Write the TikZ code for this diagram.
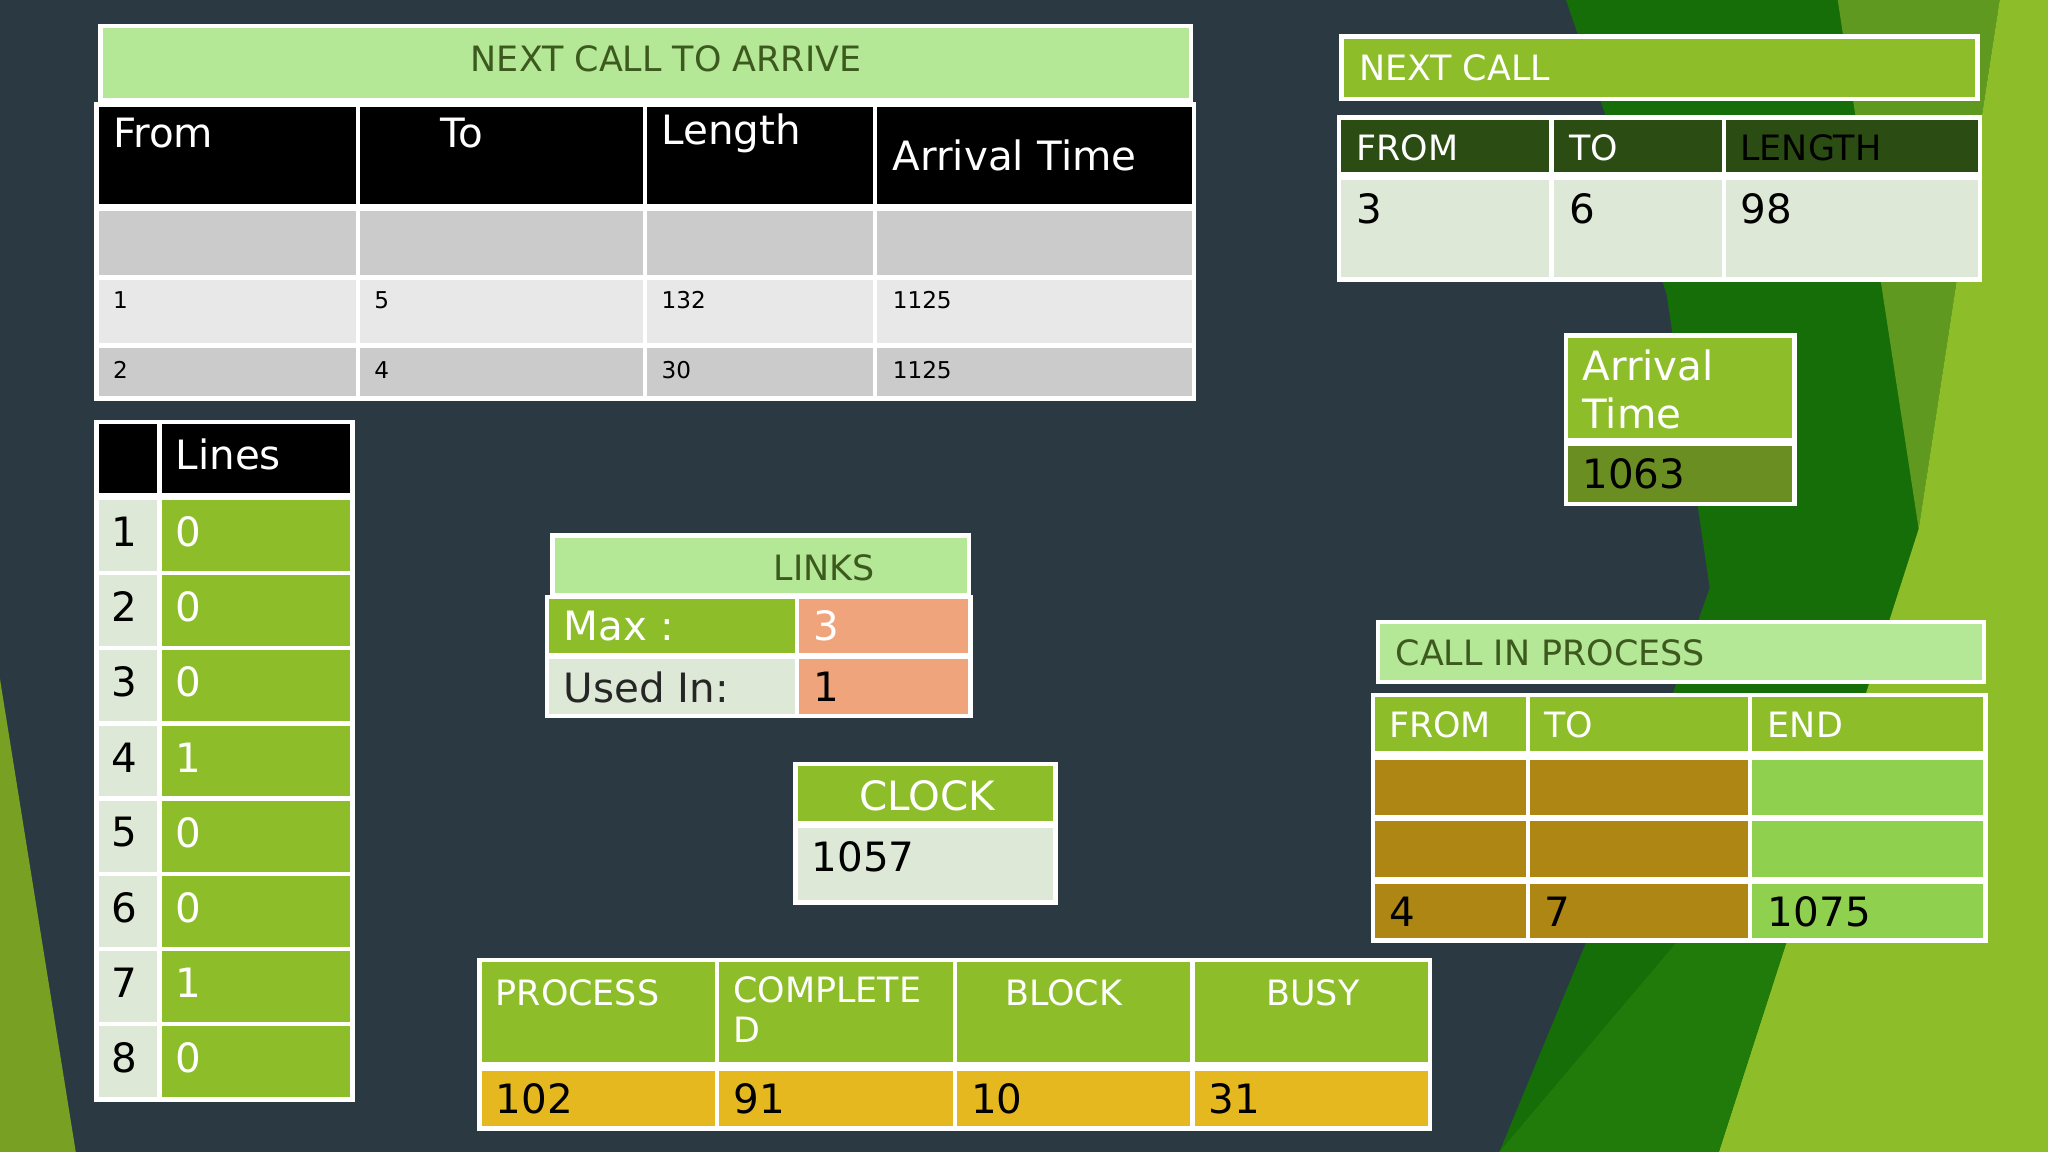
\documentclass[tikz,border=0pt]{standalone}
\usepackage{fontspec}
\setmainfont{DejaVu Sans}
\usetikzlibrary{positioning}
\definecolor{slate}{HTML}{2B3A42}
\definecolor{lgreen}{HTML}{B4E796}
\definecolor{tgreen}{HTML}{3D5A1E}
\definecolor{ggreen}{HTML}{8DBE2A}
\definecolor{pgreen}{HTML}{DDE9D6}
\definecolor{dgreen}{HTML}{2B4C12}
\definecolor{olive}{HTML}{6B8E23}
\definecolor{salmon}{HTML}{F0A47C}
\definecolor{gold}{HTML}{E6B820}
\definecolor{dgold}{HTML}{AD8614}
\definecolor{bgreen}{HTML}{8FD14F}
\definecolor{grayA}{HTML}{CBCBCB}
\definecolor{grayB}{HTML}{E8E8E8}
\tikzset{
cell/.style={draw=white, line width=1.2pt},
lbl/.style={anchor=west, inner sep=0, text=white},
big/.style={font=\fontsize{11}{13}\selectfont},
mid/.style={font=\fontsize{9.5}{11}\selectfont},
tiny/.style={font=\fontsize{6.3}{7}\selectfont, text=black}}
\newcommand{\cellbox}[5]{\fill[cell, fill=#5] (#1,#2) rectangle (#3,#4);}
\begin{document}
\begin{tikzpicture}[x=0.0125cm, y=-0.0125cm]
\useasboundingbox (0,0) rectangle (1568,882);
% background
\fill[slate] (0,0) rectangle (1568,882);
\fill[green!40!black!80!olive] (1199,0) -- (1568,0) -- (1568,882) -- (1148,882) -- (1215,720) -- (1309,450) -- (1276,225) -- cycle;
\fill[olive!90!green] (1407,0) -- (1531,0) -- (1469,405) -- cycle;
\fill[ggreen] (1531,0) -- (1568,0) -- (1568,882) -- (1316,882) -- (1469,405) -- cycle;
\fill[green!45!black!70!olive] (1148,882) -- (1316,882) -- (1420,560) -- cycle;
\fill[ggreen!85!black] (0,520) -- (58,882) -- (0,882) -- cycle;

% next call to arrive
\cellbox{77}{20}{912}{77}{lgreen}
\node[mid, text=tgreen] (arrive) at (510,45) {NEXT CALL TO ARRIVE};
\foreach \xa/\xb [count=\c] in {74/274, 274/494, 494/670, 670/914}{
  \cellbox{\xa}{80}{\xb}{158}{black}
  \cellbox{\xa}{160}{\xb}{212}{grayA}
  \cellbox{\xa}{213}{\xb}{264}{grayB}
  \cellbox{\xa}{265}{\xb}{305}{grayA}
}
\node[lbl, big] (h-from) at (86,102) {From};
\node[lbl, big] (h-to) at (337,102) {To};
\node[lbl, big] (h-len) at (506,102) {Length};
\node[lbl, big] (h-arr) at (683,119) {Arrival\,\,Time};
\foreach \v [count=\c] in {1,5,132,1125}{
  \pgfmathsetmacro\xx{{86,286,506,683}[\c-1]}
  \node[lbl, tiny] (r1-\c) at (\xx,230) {\v};
}
\foreach \v [count=\c] in {2,4,30,1125}{
  \pgfmathsetmacro\xx{{86,286,506,683}[\c-1]}
  \node[lbl, tiny] (r2-\c) at (\xx,283) {\v};
}

% lines
\cellbox{74}{323}{122}{379}{black}
\cellbox{122}{323}{270}{379}{black}
\node[lbl, big] (lines) at (134,348) {Lines};
\foreach \v [count=\i, evaluate={\ya=381+57.6*(\i-1); \yb=\ya+57.6; \ym=\ya+26;}] in {0,0,0,1,0,0,1,0}{
  \cellbox{74}{\ya}{122}{\yb}{pgreen}
  \cellbox{122}{\ya}{270}{\yb}{ggreen}
  \node[lbl, big, text=black] (ln-\i) at (85,\ym) {\i};
  \node[lbl, big] (lv-\i) at (134,\ym) {\v};
}

% links
\cellbox{423}{410}{742}{456}{lgreen}
\node[mid, text=tgreen] (links) at (631,435) {LINKS};
\cellbox{419}{457}{610}{502}{ggreen}
\cellbox{610}{457}{743}{502}{salmon}
\cellbox{419}{503}{610}{548}{pgreen}
\cellbox{610}{503}{743}{548}{salmon}
\node[lbl, big] (maxl) at (431,479) {Max :};
\node[lbl, big] (maxv) at (622,479) {3};
\node[lbl, big, text=black!85] (usedl) at (431,526) {Used In:};
\node[lbl, big, text=black] (usedv) at (622,526) {1};

% clock
\cellbox{609}{585}{808}{630}{ggreen}
\cellbox{609}{632}{808}{691}{pgreen}
\node[big, text=white] (clock) at (710,609) {CLOCK};
\node[lbl, big, text=black] (clockv) at (621,656) {1057};

% totals
\foreach \xa/\xb/\v in {367/549/102, 549/731/91, 731/913/10, 913/1095/31}{
  \cellbox{\xa}{735}{\xb}{815}{ggreen}
  \cellbox{\xa}{818}{\xb}{864}{gold}
  \node[lbl, big, text=black] (tot-\v) at (\xa+12,841) {\v};
}
\node[lbl, mid] (process) at (379,760) {PROCESS};
\node[lbl, mid, align=left, anchor=north west] (complete) at (561,747) {COMPLETE\\D};
\node[lbl, mid] (block) at (769,760) {BLOCK};
\node[lbl, mid] (busy) at (969,760) {BUSY};

% next call
\cellbox{1027}{28}{1514}{76}{ggreen}
\node[lbl, mid] (next) at (1040,52) {NEXT CALL};
\foreach \xa/\xb [count=\c] in {1025/1188, 1188/1320, 1320/1516}{
  \cellbox{\xa}{90}{\xb}{133}{dgreen}
  \cellbox{\xa}{136}{\xb}{214}{pgreen}
}
\node[lbl, mid] (nc-from) at (1038,113) {FROM};
\node[lbl, mid] (nc-to) at (1201,113) {TO};
\node[lbl, mid, text=black] (nc-len) at (1332,113) {LENGTH};
\node[lbl, big, text=black] (nc-1) at (1038,160) {3};
\node[lbl, big, text=black] (nc-2) at (1201,160) {6};
\node[lbl, big, text=black] (nc-3) at (1332,160) {98};

% arrival time
\cellbox{1199}{257}{1374}{337}{ggreen}
\cellbox{1199}{340}{1374}{386}{olive}
\node[lbl, big, align=left] (arr) at (1211,298) {Arrival\\Time};
\node[lbl, big, text=black] (arrv) at (1211,363) {1063};

% call in process
\cellbox{1055}{476}{1519}{522}{lgreen}
\node[lbl, mid, text=tgreen] (cip) at (1068,500) {CALL IN PROCESS};
\foreach \xa/\xb/\fc [count=\c] in {1051/1170/dgold, 1170/1340/dgold, 1340/1520/bgreen}{
  \cellbox{\xa}{532}{\xb}{577}{ggreen}
  \cellbox{\xa}{580}{\xb}{626}{\fc}
  \cellbox{\xa}{627}{\xb}{673}{\fc}
  \cellbox{\xa}{675}{\xb}{720}{\fc}
}
\node[lbl, mid] (cp-from) at (1063,555) {FROM};
\node[lbl, mid] (cp-to) at (1182,555) {TO};
\node[lbl, mid] (cp-end) at (1353,555) {END};
\node[lbl, big, text=black] (cp-1) at (1063,698) {4};
\node[lbl, big, text=black] (cp-2) at (1182,698) {7};
\node[lbl, big, text=black] (cp-3) at (1353,698) {1075};
\end{tikzpicture}
\end{document}
